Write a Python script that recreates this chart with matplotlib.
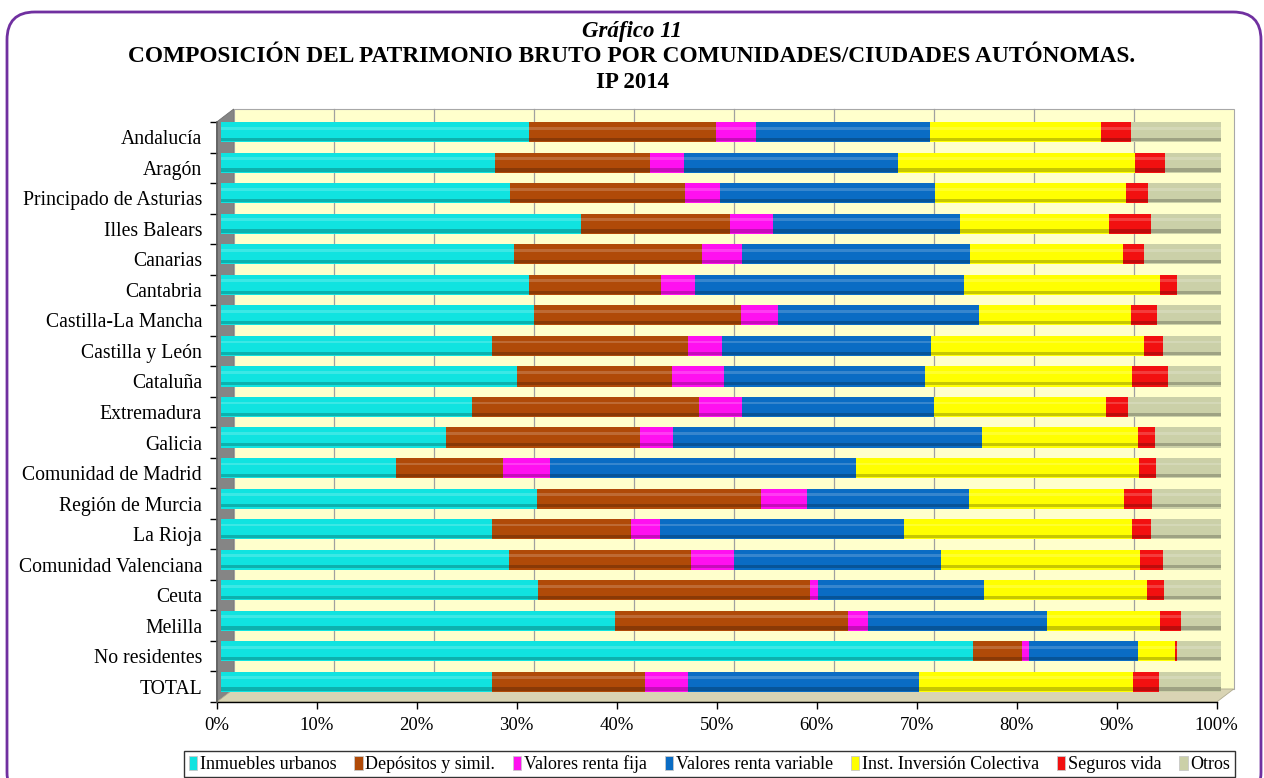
import matplotlib
matplotlib.use("Agg")
import matplotlib.pyplot as plt
import matplotlib.transforms as mtransforms
from matplotlib.patches import Patch, Polygon, FancyBboxPatch
import numpy as np

plt.rcParams['font.family'] = ['Liberation Serif', 'DejaVu Serif']

regiones = ["Andalucía", "Aragón", "Principado de Asturias", "Illes Balears",
            "Canarias", "Cantabria", "Castilla-La Mancha", "Castilla y León",
            "Cataluña", "Extremadura", "Galicia", "Comunidad de Madrid",
            "Región de Murcia", "La Rioja", "Comunidad Valenciana", "Ceuta",
            "Melilla", "No residentes", "TOTAL"]

inmuebles = [30.8, 27.4, 28.9, 36.0, 29.3, 30.8, 31.3, 27.1, 29.6, 25.1,
             22.5, 17.5, 31.6, 27.1, 28.8, 31.7, 39.4, 75.2, 27.1]
depositos = [18.7, 15.5, 17.5, 14.9, 18.8, 13.2, 20.7, 19.6, 15.5, 22.7,
             19.4, 10.7, 22.4, 13.9, 18.2, 27.2, 23.3, 4.9, 15.3]
renta_fija = [4.0, 3.4, 3.5, 4.3, 4.0, 3.4, 3.7, 3.4, 5.2, 4.3,
              3.3, 4.7, 4.6, 2.9, 4.3, 0.8, 2.0, 0.7, 4.3]
renta_variable = [17.4, 21.4, 21.5, 18.7, 22.8, 26.9, 20.1, 20.9, 20.1, 19.2,
                  30.9, 30.6, 16.2, 24.4, 20.7, 16.6, 17.9, 10.9, 23.1]
iic = [17.1, 23.7, 19.1, 14.9, 15.3, 19.6, 15.2, 21.3, 20.7, 17.2,
       15.6, 28.3, 15.5, 22.8, 19.9, 16.3, 11.3, 3.7, 21.4]
seguros = [3.0, 3.0, 2.2, 4.2, 2.1, 1.7, 2.6, 1.9, 3.6, 2.2,
           1.7, 1.7, 2.8, 1.9, 2.3, 1.7, 2.1, 0.2, 2.6]
otros = [9.0, 5.6, 7.3, 7.0, 7.7, 4.4, 6.4, 5.8, 5.3, 9.3,
         6.6, 6.5, 6.9, 7.0, 5.8, 5.7, 4.0, 4.4, 6.2]

series = [inmuebles, depositos, renta_fija, renta_variable, iic, seguros, otros]
nombres = ["Inmuebles urbanos", "Depósitos y simil.", "Valores renta fija",
           "Valores renta variable", "Inst. Inversión Colectiva",
           "Seguros vida", "Otros"]
colores = ["#10E3E0", "#B04A08", "#FF10F0", "#0A6CC4", "#FFFF00",
           "#F21010", "#CBD0A8"]
xticks = np.arange(0, 101, 10)

W, H = 1264, 778
fig = plt.figure(figsize=(W / 100, H / 100), dpi=100)


def px(x, y):
    # pixel coords (origin top-left) -> figure fraction
    return (x / W, 1 - y / H)


# outer purple frame
x0, y0 = px(7, 12)
x1, y1 = px(1261, 800)
frame = FancyBboxPatch((x0, y1), x1 - x0, y0 - y1,
                       boxstyle="round,pad=0,rounding_size=0.022",
                       transform=fig.transFigure, fill=False,
                       edgecolor="#7030A0", linewidth=2.0,
                       mutation_aspect=W / H, zorder=0)
fig.patches.append(frame)

# titles
fig.text(0.5, 1 - 32 / H, "Gráfico 11", ha="center", va="center",
         fontsize=16.5, fontweight="bold", fontstyle="italic")
fig.text(0.5, 1 - 57 / H,
         "COMPOSICIÓN DEL PATRIMONIO BRUTO POR COMUNIDADES/CIUDADES AUTÓNOMAS.",
         ha="center", va="center", fontsize=16.8, fontweight="bold")
fig.text(0.5, 1 - 82 / H, "IP 2014", ha="center", va="center",
         fontsize=16.5, fontweight="bold")

# axes: front frame of the pseudo 3D chart
left, right, top, bottom = 216.7, 1216.7, 122, 702
ax = fig.add_axes([left / W, 1 - bottom / H, (right - left) / W, (bottom - top) / H])
ax.set_xlim(0, 100)
n = len(regiones)
ax.set_ylim(n - 0.5, -0.5)
ax.patch.set_visible(False)

dx, dy = 17, 13  # depth of the back wall (pixels)
wall = mtransforms.offset_copy(ax.transAxes, fig=fig, x=dx, y=dy, units='dots')
back = Polygon([(0, 0), (1, 0), (1, 1), (0, 1)], closed=True, transform=wall,
               facecolor="#FFFFCC", edgecolor="#A8A8A8", linewidth=0.8,
               zorder=0, clip_on=False)
ax.add_patch(back)

# left side wall and floor
lw_pts = [px(left, top), px(left + dx, top - dy), px(left + dx, bottom - dy), px(left, bottom)]
ax.add_patch(Polygon(lw_pts, closed=True, transform=fig.transFigure,
                     facecolor="#858585", edgecolor="#707070", linewidth=0.6,
                     zorder=0.5, clip_on=False))
fl_pts = [px(left, bottom), px(left + dx, bottom - dy), px(right + dx, bottom - dy), px(right, bottom)]
ax.add_patch(Polygon(fl_pts, closed=True, transform=fig.transFigure,
                     facecolor="#D9D4B4", edgecolor="#B0AC90", linewidth=0.6,
                     zorder=0.5, clip_on=False))

# gridlines on back wall
wall_data = mtransforms.offset_copy(ax.transData, fig=fig, x=dx, y=dy, units='dots')
for v in xticks[1:-1]:
    ax.plot([v, v], [n - 0.5, -0.5], color="#A0A0A0", linewidth=0.9,
            transform=wall_data, zorder=1, clip_on=False)

# bars, drawn a little into the depth
bar_tr = mtransforms.offset_copy(ax.transData, fig=fig, x=4.5, y=5, units='dots')
ypos = np.arange(n)
h = 0.66
acum = np.zeros(n)
for vals, nombre, col in zip(series, nombres, colores):
    vals = np.array(vals)
    ax.barh(ypos, vals, left=acum, height=h, color=col, edgecolor="none",
            transform=bar_tr, zorder=3, clip_on=False)
    # shading for the cylinder look
    ax.barh(ypos + h * 0.36, vals, left=acum, height=h * 0.16, color="black",
            alpha=0.22, edgecolor="none", transform=bar_tr, zorder=4, clip_on=False)
    ax.barh(ypos - h * 0.2, vals, left=acum, height=h * 0.14, color="white",
            alpha=0.18, edgecolor="none", transform=bar_tr, zorder=4, clip_on=False)
    acum += vals

# axes styling
for s in ["top", "right"]:
    ax.spines[s].set_visible(False)
ax.spines["left"].set_color("#606060")
ax.spines["left"].set_linewidth(1.2)
ax.spines["bottom"].set_color("black")
ax.spines["bottom"].set_linewidth(1.0)
ax.spines["left"].set_zorder(5)

ax.set_xticks(xticks)
ax.set_xticklabels([f"{v}%" for v in xticks], fontsize=13.5)
ax.tick_params(axis="x", direction="out", length=5, width=1, pad=6)

ax.set_yticks(np.arange(-0.5, n, 1))
ax.set_yticklabels([])
ax.set_yticks(ypos, minor=True)
ax.set_yticklabels(regiones, minor=True, fontsize=14.2)
ax.tick_params(axis="y", which="major", direction="out", length=5, width=1)
ax.tick_params(axis="y", which="minor", length=0, pad=10.5)

# legend
handles = [Patch(facecolor=c, edgecolor="#C8C8C8", linewidth=0.6) for c in colores]
leg = fig.legend(handles, nombres, loc="center", bbox_to_anchor=px(709.5, 764),
                 ncol=7, fontsize=13, frameon=True, fancybox=False,
                 handlelength=0.45, handleheight=0.8, handletextpad=0.15,
                 columnspacing=1.0, borderpad=0.25, borderaxespad=0)
leg.get_frame().set_edgecolor("black")
leg.get_frame().set_linewidth(1.0)

fig.savefig("out.png", dpi=100)
